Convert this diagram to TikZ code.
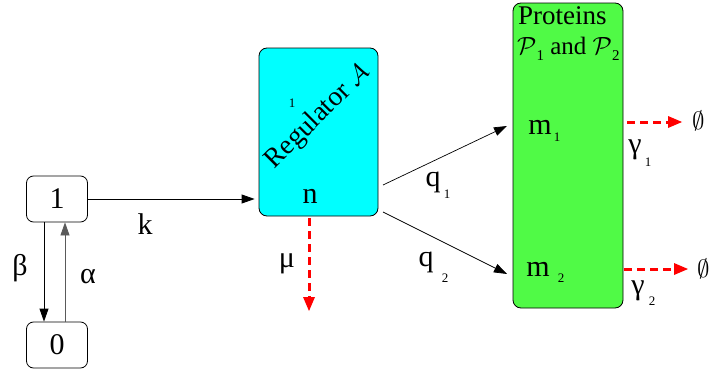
\documentclass[tikz,border=0pt]{standalone}
\usepackage{fontspec}
\setmainfont{Liberation Serif}
\newfontfamily\labelfont{Liberation Serif}
\usetikzlibrary{arrows.meta}
\definecolor{regcyan}{RGB}{0,255,255}
\definecolor{protgreen}{RGB}{80,250,70}
\definecolor{decayred}{RGB}{255,0,0}
\definecolor{backgray}{RGB}{90,90,90}
\begin{document}
\begin{tikzpicture}[x=1pt,y=-1pt,
  lbl/.style={font=\labelfont\fontsize{30}{36}\selectfont, inner sep=0pt},
  sub/.style={font=\labelfont\fontsize{13}{15}\selectfont, inner sep=0pt},
  statebox/.style={draw=black, line width=0.8pt, rounded corners=7pt,
    minimum width=61pt, minimum height=46pt, inner sep=0pt,
    font=\labelfont\fontsize{30}{36}\selectfont},
  flow/.style={line width=0.8pt, -{Triangle[length=13pt,width=9pt]}},
  decay/.style={draw=decayred, line width=3pt, dash pattern=on 8pt off 5pt,
    -{Triangle[length=14pt,width=12pt,line width=0pt]}, color=decayred},
]
\useasboundingbox (0,0) rectangle (713,383);
\clip (0,0) rectangle (713,383);

% gene states
\node[statebox] (one) at (57,199) {1};
\node[statebox] (zero) at (57,345) {0};

% regulator and protein compartments
\node[draw=black, line width=0.8pt, fill=regcyan, rounded corners=8pt,
      minimum width=119pt, minimum height=168pt, inner sep=0pt] (reg) at (318.5,132) {};
\node[draw=black, line width=0.8pt, fill=protgreen, rounded corners=8pt,
      minimum width=110pt, minimum height=305pt, inner sep=0pt] (prot) at (568,155.5) {};

% switching between states
\draw[flow] ([xshift=-13pt]one.south) -- ([xshift=-13pt]zero.north);
\draw[flow, draw=backgray] ([xshift=8pt]zero.north) -- ([xshift=8pt]one.south);
\node[lbl] (beta) at (20,268) {β};
\node[lbl] (alpha) at (88,277) {α};

% production of the regulator
\draw[flow] (one.east) -- ([xshift=-4pt]reg.west |- one.east);
\node[lbl] (k) at (145,224) {k};

% regulator contents
\node[font=\labelfont\fontsize{27.5}{32}\selectfont, inner sep=0pt, rotate=45] (regname) at (318,117) {Regulator $\mathcal{A}$};
\node[sub] (regsup) at (292,103) {1};
\node[lbl] (n) at (310,196) {n};

% regulator decay
\coordinate (mustart) at (309,218);
\coordinate (muend) at (309,311);
\draw[decay] (mustart) -- (muend);
\node[lbl] (mu) at (287,264) {μ};

% protein compartment contents
\node[font=\labelfont\fontsize{27}{30}\selectfont, inner sep=0pt, anchor=north west] (ptitle) at (518,6) {Proteins};
\node[font=\labelfont\fontsize{25}{30}\selectfont, inner sep=0pt, anchor=north west] (psub) at (517,37)
  {$\mathcal{P}$\raisebox{-6pt}{\fontsize{15}{18}\selectfont 1} and $\mathcal{P}$\raisebox{-6pt}{\fontsize{15}{18}\selectfont 2}};
\node[lbl] (m1) at (540,127) {m};
\node[sub] (m1s) at (557,137) {1};
\node[lbl] (m2) at (538,269) {m};
\node[sub] (m2s) at (561,278) {2};

% conversion into the two proteins
\coordinate (q1start) at (383,185);
\coordinate (q1end) at (507,126);
\coordinate (q2start) at (383,212);
\coordinate (q2end) at (507,274);
\draw[flow, line width=0.7pt] (q1start) -- (q1end);
\draw[flow, line width=0.7pt] (q2start) -- (q2end);
\node[lbl] (q1) at (433,182) {q};
\node[sub] (q1s) at (447,194) {1};
\node[lbl] (q2) at (426,262) {q};
\node[sub] (q2s) at (445,278) {2};

% protein decay
\node[font=\fontsize{34}{38}\selectfont, inner sep=0pt, anchor=west] (void1) at (692,121) {$\emptyset$};
\node[font=\fontsize{34}{38}\selectfont, inner sep=0pt, anchor=west] (void2) at (697,269) {$\emptyset$};
\coordinate (g1start) at (627,122);
\coordinate (g2start) at (624,269);
\draw[decay] (g1start) -- ([xshift=-10pt]void1.west |- g1start);
\draw[decay] (g2start) -- ([xshift=-9pt]void2.west |- g2start);
\node[lbl] (g1) at (635,150) {γ};
\node[sub] (g1s) at (648,162) {1};
\node[lbl] (g2) at (638,291) {γ};
\node[sub] (g2s) at (652,301) {2};
\end{tikzpicture}
\end{document}
